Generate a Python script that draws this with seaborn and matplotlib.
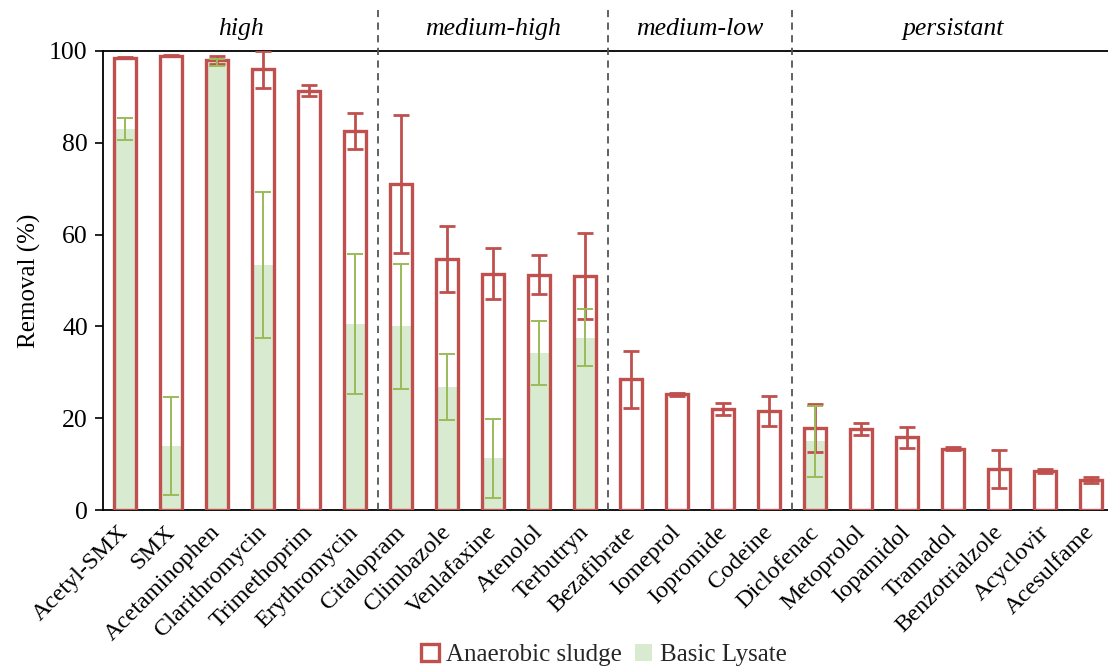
import matplotlib
matplotlib.use("Agg")
import matplotlib.pyplot as plt
import matplotlib.patches as mpatches
import matplotlib.transforms as mtransforms
import seaborn as sns
import pandas as pd
import numpy as np

compounds = ["Acetyl-SMX", "SMX", "Acetaminophen", "Clarithromycin", "Trimethoprim",
             "Erythromycin", "Citalopram", "Climbazole", "Venlafaxine", "Atenolol",
             "Terbutryn", "Bezafibrate", "Iomeprol", "Iopromide", "Codeine",
             "Diclofenac", "Metoprolol", "Iopamidol", "Tramadol", "Benzotrialzole",
             "Acyclovir", "Acesulfame"]
sludge = [98.5, 99.0, 98.0, 96.0, 91.3, 82.5, 71.0, 54.7, 51.5, 51.3, 51.0,
          28.5, 25.2, 22.0, 21.5, 17.8, 17.6, 15.8, 13.4, 9.0, 8.5, 6.5]
sludge_err = [0.1, 0.1, 0.8, 4.0, 1.2, 3.9, 15.0, 7.2, 5.6, 4.2, 9.3,
              6.2, 0.4, 1.3, 3.3, 5.2, 1.3, 2.3, 0.3, 4.1, 0.5, 0.6]
lysate = [83.0, 14.0, 97.5, 53.3, 0, 40.5, 40.0, 26.8, 11.3, 34.2, 37.5,
          0, 0, 0, 0, 15.0, 0, 0, 0, 0, 0, 0]
lysate_err = [2.4, 10.7, 0.8, 15.9, 0, 15.2, 13.6, 7.2, 8.6, 6.9, 6.2,
              0, 0, 0, 0, 7.7, 0, 0, 0, 0, 0, 0]
groups = ["high", "medium-high", "medium-low", "persistant"]
group_bounds = [(0, 5), (6, 10), (11, 14), (15, 21)]

red = "#C0504D"
green_fill = "#D8EAD0"
green_err = "#9BBB59"

sns.set_theme(style="white")
plt.rcParams["font.family"] = ["Liberation Serif", "DejaVu Serif"]

fig = plt.figure(figsize=(11.08, 6.68), dpi=100)
ax = fig.add_axes([0.093, 0.2365, 0.907, 0.6872])

df = pd.DataFrame({"compound": compounds, "sludge": sludge, "lysate": lysate})
W = 0.46
sns.barplot(data=df, x="compound", y="lysate", color=green_fill, width=W,
            saturation=1, ax=ax, zorder=2, errorbar=None)
n_green = len(ax.patches)
sns.barplot(data=df, x="compound", y="sludge", color="white", width=W,
            saturation=1, ax=ax, zorder=3, errorbar=None)
for p in ax.patches[n_green:]:
    p.set_facecolor("none")
    p.set_edgecolor(red)
    p.set_linewidth(2.4)
for p in ax.patches[:n_green]:
    p.set_edgecolor("none")

xs = np.arange(len(compounds))
ax.errorbar(xs, sludge, yerr=sludge_err, fmt="none", ecolor=red, elinewidth=2.0,
            capsize=6, capthick=2.0, zorder=4)
mask = np.array(lysate) > 0
ax.errorbar(xs[mask], np.array(lysate)[mask], yerr=np.array(lysate_err)[mask],
            fmt="none", ecolor=green_err, elinewidth=1.4, capsize=6, capthick=1.4,
            zorder=5)

ax.set_ylim(0, 100)
ax.set_xlim(-0.478, 21.37)
ax.set_yticks([0, 20, 40, 60, 80, 100])
ax.tick_params(axis="y", labelsize=18.5, direction="out", length=6, width=1.2,
               pad=5, left=True, colors="black")
ax.tick_params(axis="x", length=0, labelsize=17.5)
ax.set_xticks(xs)
ax.set_xticklabels(compounds, rotation=45, ha="right", rotation_mode="anchor")
offset = mtransforms.ScaledTranslation(-5 / 72, -5 / 72, fig.dpi_scale_trans)
for lbl in ax.get_xticklabels():
    lbl.set_color("black")
    lbl.set_transform(lbl.get_transform() + offset)
ax.set_xlabel("")
ax.set_ylabel("Removal (%)", fontsize=18, color="black", labelpad=6)

for s in ["left", "bottom", "top"]:
    ax.spines[s].set_visible(True)
    ax.spines[s].set_color("black")
    ax.spines[s].set_linewidth(1.3)
ax.spines["right"].set_visible(False)

for (a, b), g in zip(group_bounds, groups):
    xc = (a + b) / 2 if a != 0 else (a - 0.478 + b + 0.5) / 2
    ax.text(xc, 1.048, g, transform=ax.get_xaxis_transform(), ha="center",
            va="center", fontsize=18.5, style="italic", color="black")
for x in [5.5, 10.5, 14.5]:
    ax.axvline(x, ymin=0, ymax=1.09, color="#555555", ls=(0, (4, 3)), lw=1.3,
               clip_on=False, zorder=6)

handles = [mpatches.Patch(facecolor="white", edgecolor=red, linewidth=2.4,
                          label="Anaerobic sludge"),
           mpatches.Patch(facecolor=green_fill, edgecolor="none", label="Basic Lysate")]
fig.legend(handles=handles, loc="lower center", bbox_to_anchor=(0.545, -0.031),
           ncol=2, frameon=False, fontsize=18, handlelength=0.7, handleheight=0.7,
           handletextpad=0.3, columnspacing=0.5)

fig.savefig("out.png", dpi=100)
